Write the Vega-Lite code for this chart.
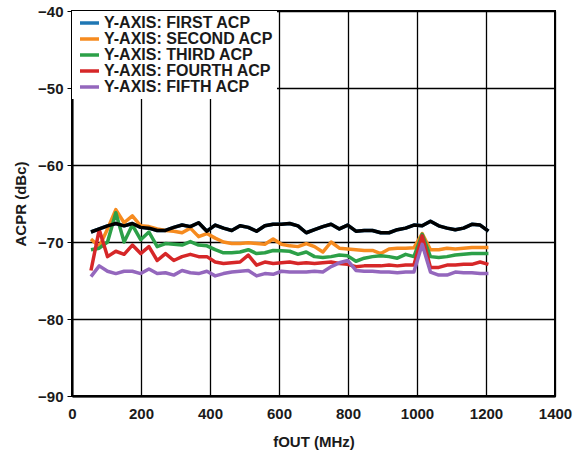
{
  "$schema": "https://vega.github.io/schema/vega-lite/v6.json",
  "autosize": {"type": "none"},
  "width": 483,
  "height": 385,
  "padding": {"left": 72, "top": 11, "right": 19, "bottom": 55},
  "background": "white",
  "config": {
    "font": "Liberation Sans",
    "view": {"stroke": "#000", "strokeWidth": 2},
    "axis": {
      "labelFont": "Liberation Sans", "labelFontWeight": "bold", "labelFontSize": 15, "labelColor": "#1a1a1a",
      "titleFont": "Liberation Sans", "titleFontWeight": "bold", "titleFontSize": 15, "titleColor": "#1a1a1a",
      "gridColor": "#000", "gridWidth": 1.3, "gridOpacity": 1,
      "domainColor": "#000", "domainWidth": 2, "tickColor": "#000"
    }
  },
  "data": {"values": [
    {"f":55,"v":-68.7,"s":"Y-AXIS: FIRST ACP"},{"f":79,"v":-68.3,"s":"Y-AXIS: FIRST ACP"},{"f":103,"v":-67.9,"s":"Y-AXIS: FIRST ACP"},{"f":127,"v":-67.6,"s":"Y-AXIS: FIRST ACP"},{"f":151,"v":-67.9,"s":"Y-AXIS: FIRST ACP"},{"f":175,"v":-67.6,"s":"Y-AXIS: FIRST ACP"},{"f":199,"v":-68.1,"s":"Y-AXIS: FIRST ACP"},{"f":223,"v":-68.2,"s":"Y-AXIS: FIRST ACP"},{"f":247,"v":-68.5,"s":"Y-AXIS: FIRST ACP"},{"f":271,"v":-68.5,"s":"Y-AXIS: FIRST ACP"},{"f":295,"v":-68.1,"s":"Y-AXIS: FIRST ACP"},{"f":319,"v":-67.8,"s":"Y-AXIS: FIRST ACP"},{"f":343,"v":-68.0,"s":"Y-AXIS: FIRST ACP"},{"f":367,"v":-67.5,"s":"Y-AXIS: FIRST ACP"},{"f":391,"v":-68.6,"s":"Y-AXIS: FIRST ACP"},{"f":415,"v":-67.8,"s":"Y-AXIS: FIRST ACP"},{"f":439,"v":-68.2,"s":"Y-AXIS: FIRST ACP"},{"f":463,"v":-68.5,"s":"Y-AXIS: FIRST ACP"},{"f":487,"v":-67.9,"s":"Y-AXIS: FIRST ACP"},{"f":511,"v":-68.1,"s":"Y-AXIS: FIRST ACP"},{"f":535,"v":-68.6,"s":"Y-AXIS: FIRST ACP"},{"f":559,"v":-67.9,"s":"Y-AXIS: FIRST ACP"},{"f":583,"v":-67.7,"s":"Y-AXIS: FIRST ACP"},{"f":607,"v":-67.7,"s":"Y-AXIS: FIRST ACP"},{"f":631,"v":-67.6,"s":"Y-AXIS: FIRST ACP"},{"f":655,"v":-67.9,"s":"Y-AXIS: FIRST ACP"},{"f":679,"v":-68.8,"s":"Y-AXIS: FIRST ACP"},{"f":703,"v":-68.4,"s":"Y-AXIS: FIRST ACP"},{"f":727,"v":-68.0,"s":"Y-AXIS: FIRST ACP"},{"f":751,"v":-67.7,"s":"Y-AXIS: FIRST ACP"},{"f":775,"v":-68.3,"s":"Y-AXIS: FIRST ACP"},{"f":799,"v":-67.8,"s":"Y-AXIS: FIRST ACP"},{"f":823,"v":-68.6,"s":"Y-AXIS: FIRST ACP"},{"f":847,"v":-68.5,"s":"Y-AXIS: FIRST ACP"},{"f":871,"v":-68.5,"s":"Y-AXIS: FIRST ACP"},{"f":895,"v":-68.8,"s":"Y-AXIS: FIRST ACP"},{"f":919,"v":-68.8,"s":"Y-AXIS: FIRST ACP"},{"f":943,"v":-68.4,"s":"Y-AXIS: FIRST ACP"},{"f":967,"v":-68.2,"s":"Y-AXIS: FIRST ACP"},{"f":991,"v":-67.8,"s":"Y-AXIS: FIRST ACP"},{"f":1015,"v":-67.9,"s":"Y-AXIS: FIRST ACP"},{"f":1039,"v":-67.3,"s":"Y-AXIS: FIRST ACP"},{"f":1063,"v":-67.9,"s":"Y-AXIS: FIRST ACP"},{"f":1087,"v":-68.2,"s":"Y-AXIS: FIRST ACP"},{"f":1111,"v":-68.4,"s":"Y-AXIS: FIRST ACP"},{"f":1135,"v":-68.2,"s":"Y-AXIS: FIRST ACP"},{"f":1159,"v":-67.7,"s":"Y-AXIS: FIRST ACP"},{"f":1183,"v":-67.8,"s":"Y-AXIS: FIRST ACP"},{"f":1207,"v":-68.6,"s":"Y-AXIS: FIRST ACP"},

    {"f":55,"v":-69.6,"s":"Y-AXIS: SECOND ACP"},{"f":79,"v":-70.6,"s":"Y-AXIS: SECOND ACP"},{"f":103,"v":-68.3,"s":"Y-AXIS: SECOND ACP"},{"f":127,"v":-65.8,"s":"Y-AXIS: SECOND ACP"},{"f":151,"v":-67.5,"s":"Y-AXIS: SECOND ACP"},{"f":175,"v":-66.6,"s":"Y-AXIS: SECOND ACP"},{"f":199,"v":-67.9,"s":"Y-AXIS: SECOND ACP"},{"f":223,"v":-68.0,"s":"Y-AXIS: SECOND ACP"},{"f":247,"v":-68.3,"s":"Y-AXIS: SECOND ACP"},{"f":271,"v":-68.5,"s":"Y-AXIS: SECOND ACP"},{"f":295,"v":-68.6,"s":"Y-AXIS: SECOND ACP"},{"f":319,"v":-68.8,"s":"Y-AXIS: SECOND ACP"},{"f":343,"v":-68.2,"s":"Y-AXIS: SECOND ACP"},{"f":367,"v":-69.3,"s":"Y-AXIS: SECOND ACP"},{"f":391,"v":-68.9,"s":"Y-AXIS: SECOND ACP"},{"f":415,"v":-69.5,"s":"Y-AXIS: SECOND ACP"},{"f":439,"v":-70.0,"s":"Y-AXIS: SECOND ACP"},{"f":463,"v":-70.2,"s":"Y-AXIS: SECOND ACP"},{"f":487,"v":-70.2,"s":"Y-AXIS: SECOND ACP"},{"f":511,"v":-70.1,"s":"Y-AXIS: SECOND ACP"},{"f":535,"v":-70.2,"s":"Y-AXIS: SECOND ACP"},{"f":559,"v":-70.3,"s":"Y-AXIS: SECOND ACP"},{"f":583,"v":-69.6,"s":"Y-AXIS: SECOND ACP"},{"f":607,"v":-70.3,"s":"Y-AXIS: SECOND ACP"},{"f":631,"v":-70.5,"s":"Y-AXIS: SECOND ACP"},{"f":655,"v":-70.6,"s":"Y-AXIS: SECOND ACP"},{"f":679,"v":-70.2,"s":"Y-AXIS: SECOND ACP"},{"f":703,"v":-70.6,"s":"Y-AXIS: SECOND ACP"},{"f":727,"v":-71.3,"s":"Y-AXIS: SECOND ACP"},{"f":751,"v":-70.0,"s":"Y-AXIS: SECOND ACP"},{"f":775,"v":-70.8,"s":"Y-AXIS: SECOND ACP"},{"f":799,"v":-70.9,"s":"Y-AXIS: SECOND ACP"},{"f":823,"v":-71.0,"s":"Y-AXIS: SECOND ACP"},{"f":847,"v":-71.1,"s":"Y-AXIS: SECOND ACP"},{"f":871,"v":-71.1,"s":"Y-AXIS: SECOND ACP"},{"f":895,"v":-71.5,"s":"Y-AXIS: SECOND ACP"},{"f":919,"v":-70.9,"s":"Y-AXIS: SECOND ACP"},{"f":943,"v":-70.8,"s":"Y-AXIS: SECOND ACP"},{"f":967,"v":-70.8,"s":"Y-AXIS: SECOND ACP"},{"f":991,"v":-70.75,"s":"Y-AXIS: SECOND ACP"},{"f":1015,"v":-68.9,"s":"Y-AXIS: SECOND ACP"},{"f":1039,"v":-71.0,"s":"Y-AXIS: SECOND ACP"},{"f":1063,"v":-71.0,"s":"Y-AXIS: SECOND ACP"},{"f":1087,"v":-70.8,"s":"Y-AXIS: SECOND ACP"},{"f":1111,"v":-70.9,"s":"Y-AXIS: SECOND ACP"},{"f":1135,"v":-70.8,"s":"Y-AXIS: SECOND ACP"},{"f":1159,"v":-70.7,"s":"Y-AXIS: SECOND ACP"},{"f":1183,"v":-70.7,"s":"Y-AXIS: SECOND ACP"},{"f":1207,"v":-70.7,"s":"Y-AXIS: SECOND ACP"},

    {"f":55,"v":-71.0,"s":"Y-AXIS: THIRD ACP"},{"f":79,"v":-70.8,"s":"Y-AXIS: THIRD ACP"},{"f":103,"v":-70.0,"s":"Y-AXIS: THIRD ACP"},{"f":127,"v":-66.2,"s":"Y-AXIS: THIRD ACP"},{"f":151,"v":-70.0,"s":"Y-AXIS: THIRD ACP"},{"f":175,"v":-67.8,"s":"Y-AXIS: THIRD ACP"},{"f":199,"v":-69.7,"s":"Y-AXIS: THIRD ACP"},{"f":223,"v":-68.7,"s":"Y-AXIS: THIRD ACP"},{"f":247,"v":-70.6,"s":"Y-AXIS: THIRD ACP"},{"f":271,"v":-70.2,"s":"Y-AXIS: THIRD ACP"},{"f":295,"v":-70.3,"s":"Y-AXIS: THIRD ACP"},{"f":319,"v":-70.4,"s":"Y-AXIS: THIRD ACP"},{"f":343,"v":-69.95,"s":"Y-AXIS: THIRD ACP"},{"f":367,"v":-70.4,"s":"Y-AXIS: THIRD ACP"},{"f":391,"v":-70.5,"s":"Y-AXIS: THIRD ACP"},{"f":415,"v":-71.0,"s":"Y-AXIS: THIRD ACP"},{"f":439,"v":-71.4,"s":"Y-AXIS: THIRD ACP"},{"f":463,"v":-71.4,"s":"Y-AXIS: THIRD ACP"},{"f":487,"v":-71.3,"s":"Y-AXIS: THIRD ACP"},{"f":511,"v":-71.0,"s":"Y-AXIS: THIRD ACP"},{"f":535,"v":-71.5,"s":"Y-AXIS: THIRD ACP"},{"f":559,"v":-71.4,"s":"Y-AXIS: THIRD ACP"},{"f":583,"v":-71.1,"s":"Y-AXIS: THIRD ACP"},{"f":607,"v":-71.15,"s":"Y-AXIS: THIRD ACP"},{"f":631,"v":-71.2,"s":"Y-AXIS: THIRD ACP"},{"f":655,"v":-71.6,"s":"Y-AXIS: THIRD ACP"},{"f":679,"v":-71.3,"s":"Y-AXIS: THIRD ACP"},{"f":703,"v":-71.9,"s":"Y-AXIS: THIRD ACP"},{"f":727,"v":-72.0,"s":"Y-AXIS: THIRD ACP"},{"f":751,"v":-71.9,"s":"Y-AXIS: THIRD ACP"},{"f":775,"v":-71.7,"s":"Y-AXIS: THIRD ACP"},{"f":799,"v":-71.8,"s":"Y-AXIS: THIRD ACP"},{"f":823,"v":-72.5,"s":"Y-AXIS: THIRD ACP"},{"f":847,"v":-72.1,"s":"Y-AXIS: THIRD ACP"},{"f":871,"v":-71.9,"s":"Y-AXIS: THIRD ACP"},{"f":895,"v":-71.8,"s":"Y-AXIS: THIRD ACP"},{"f":919,"v":-71.9,"s":"Y-AXIS: THIRD ACP"},{"f":943,"v":-72.1,"s":"Y-AXIS: THIRD ACP"},{"f":967,"v":-71.6,"s":"Y-AXIS: THIRD ACP"},{"f":991,"v":-71.9,"s":"Y-AXIS: THIRD ACP"},{"f":1015,"v":-69.0,"s":"Y-AXIS: THIRD ACP"},{"f":1039,"v":-71.9,"s":"Y-AXIS: THIRD ACP"},{"f":1063,"v":-72.0,"s":"Y-AXIS: THIRD ACP"},{"f":1087,"v":-71.9,"s":"Y-AXIS: THIRD ACP"},{"f":1111,"v":-71.7,"s":"Y-AXIS: THIRD ACP"},{"f":1135,"v":-71.6,"s":"Y-AXIS: THIRD ACP"},{"f":1159,"v":-71.5,"s":"Y-AXIS: THIRD ACP"},{"f":1183,"v":-71.5,"s":"Y-AXIS: THIRD ACP"},{"f":1207,"v":-71.5,"s":"Y-AXIS: THIRD ACP"},

    {"f":55,"v":-73.7,"s":"Y-AXIS: FOURTH ACP"},{"f":79,"v":-68.4,"s":"Y-AXIS: FOURTH ACP"},{"f":103,"v":-71.9,"s":"Y-AXIS: FOURTH ACP"},{"f":127,"v":-71.2,"s":"Y-AXIS: FOURTH ACP"},{"f":151,"v":-71.6,"s":"Y-AXIS: FOURTH ACP"},{"f":175,"v":-70.4,"s":"Y-AXIS: FOURTH ACP"},{"f":199,"v":-71.5,"s":"Y-AXIS: FOURTH ACP"},{"f":223,"v":-70.6,"s":"Y-AXIS: FOURTH ACP"},{"f":247,"v":-72.4,"s":"Y-AXIS: FOURTH ACP"},{"f":271,"v":-71.5,"s":"Y-AXIS: FOURTH ACP"},{"f":295,"v":-72.4,"s":"Y-AXIS: FOURTH ACP"},{"f":319,"v":-71.9,"s":"Y-AXIS: FOURTH ACP"},{"f":343,"v":-71.6,"s":"Y-AXIS: FOURTH ACP"},{"f":367,"v":-71.9,"s":"Y-AXIS: FOURTH ACP"},{"f":391,"v":-71.9,"s":"Y-AXIS: FOURTH ACP"},{"f":415,"v":-72.6,"s":"Y-AXIS: FOURTH ACP"},{"f":439,"v":-72.8,"s":"Y-AXIS: FOURTH ACP"},{"f":463,"v":-72.7,"s":"Y-AXIS: FOURTH ACP"},{"f":487,"v":-72.6,"s":"Y-AXIS: FOURTH ACP"},{"f":511,"v":-71.7,"s":"Y-AXIS: FOURTH ACP"},{"f":535,"v":-73.0,"s":"Y-AXIS: FOURTH ACP"},{"f":559,"v":-72.6,"s":"Y-AXIS: FOURTH ACP"},{"f":583,"v":-72.8,"s":"Y-AXIS: FOURTH ACP"},{"f":607,"v":-72.7,"s":"Y-AXIS: FOURTH ACP"},{"f":631,"v":-72.6,"s":"Y-AXIS: FOURTH ACP"},{"f":655,"v":-72.8,"s":"Y-AXIS: FOURTH ACP"},{"f":679,"v":-72.7,"s":"Y-AXIS: FOURTH ACP"},{"f":703,"v":-72.8,"s":"Y-AXIS: FOURTH ACP"},{"f":727,"v":-72.7,"s":"Y-AXIS: FOURTH ACP"},{"f":751,"v":-72.6,"s":"Y-AXIS: FOURTH ACP"},{"f":775,"v":-72.8,"s":"Y-AXIS: FOURTH ACP"},{"f":799,"v":-72.9,"s":"Y-AXIS: FOURTH ACP"},{"f":823,"v":-73.2,"s":"Y-AXIS: FOURTH ACP"},{"f":847,"v":-73.1,"s":"Y-AXIS: FOURTH ACP"},{"f":871,"v":-73.1,"s":"Y-AXIS: FOURTH ACP"},{"f":895,"v":-73.1,"s":"Y-AXIS: FOURTH ACP"},{"f":919,"v":-73.0,"s":"Y-AXIS: FOURTH ACP"},{"f":943,"v":-73.1,"s":"Y-AXIS: FOURTH ACP"},{"f":967,"v":-73.0,"s":"Y-AXIS: FOURTH ACP"},{"f":991,"v":-73.0,"s":"Y-AXIS: FOURTH ACP"},{"f":1015,"v":-69.2,"s":"Y-AXIS: FOURTH ACP"},{"f":1039,"v":-73.3,"s":"Y-AXIS: FOURTH ACP"},{"f":1063,"v":-73.3,"s":"Y-AXIS: FOURTH ACP"},{"f":1087,"v":-73.0,"s":"Y-AXIS: FOURTH ACP"},{"f":1111,"v":-73.0,"s":"Y-AXIS: FOURTH ACP"},{"f":1135,"v":-72.9,"s":"Y-AXIS: FOURTH ACP"},{"f":1159,"v":-72.9,"s":"Y-AXIS: FOURTH ACP"},{"f":1183,"v":-72.6,"s":"Y-AXIS: FOURTH ACP"},{"f":1207,"v":-72.9,"s":"Y-AXIS: FOURTH ACP"},

    {"f":55,"v":-74.5,"s":"Y-AXIS: FIFTH ACP"},{"f":79,"v":-73.1,"s":"Y-AXIS: FIFTH ACP"},{"f":103,"v":-73.8,"s":"Y-AXIS: FIFTH ACP"},{"f":127,"v":-74.1,"s":"Y-AXIS: FIFTH ACP"},{"f":151,"v":-73.8,"s":"Y-AXIS: FIFTH ACP"},{"f":175,"v":-73.8,"s":"Y-AXIS: FIFTH ACP"},{"f":199,"v":-74.1,"s":"Y-AXIS: FIFTH ACP"},{"f":223,"v":-73.5,"s":"Y-AXIS: FIFTH ACP"},{"f":247,"v":-74.1,"s":"Y-AXIS: FIFTH ACP"},{"f":271,"v":-74.0,"s":"Y-AXIS: FIFTH ACP"},{"f":295,"v":-74.3,"s":"Y-AXIS: FIFTH ACP"},{"f":319,"v":-73.7,"s":"Y-AXIS: FIFTH ACP"},{"f":343,"v":-74.0,"s":"Y-AXIS: FIFTH ACP"},{"f":367,"v":-74.1,"s":"Y-AXIS: FIFTH ACP"},{"f":391,"v":-73.8,"s":"Y-AXIS: FIFTH ACP"},{"f":415,"v":-74.4,"s":"Y-AXIS: FIFTH ACP"},{"f":439,"v":-74.1,"s":"Y-AXIS: FIFTH ACP"},{"f":463,"v":-73.9,"s":"Y-AXIS: FIFTH ACP"},{"f":487,"v":-73.8,"s":"Y-AXIS: FIFTH ACP"},{"f":511,"v":-73.7,"s":"Y-AXIS: FIFTH ACP"},{"f":535,"v":-74.4,"s":"Y-AXIS: FIFTH ACP"},{"f":559,"v":-74.1,"s":"Y-AXIS: FIFTH ACP"},{"f":583,"v":-74.2,"s":"Y-AXIS: FIFTH ACP"},{"f":607,"v":-73.8,"s":"Y-AXIS: FIFTH ACP"},{"f":631,"v":-73.9,"s":"Y-AXIS: FIFTH ACP"},{"f":655,"v":-73.9,"s":"Y-AXIS: FIFTH ACP"},{"f":679,"v":-73.9,"s":"Y-AXIS: FIFTH ACP"},{"f":703,"v":-73.8,"s":"Y-AXIS: FIFTH ACP"},{"f":727,"v":-73.9,"s":"Y-AXIS: FIFTH ACP"},{"f":751,"v":-73.2,"s":"Y-AXIS: FIFTH ACP"},{"f":775,"v":-72.7,"s":"Y-AXIS: FIFTH ACP"},{"f":799,"v":-72.4,"s":"Y-AXIS: FIFTH ACP"},{"f":823,"v":-73.7,"s":"Y-AXIS: FIFTH ACP"},{"f":847,"v":-73.8,"s":"Y-AXIS: FIFTH ACP"},{"f":871,"v":-73.8,"s":"Y-AXIS: FIFTH ACP"},{"f":895,"v":-73.9,"s":"Y-AXIS: FIFTH ACP"},{"f":919,"v":-73.9,"s":"Y-AXIS: FIFTH ACP"},{"f":943,"v":-74.0,"s":"Y-AXIS: FIFTH ACP"},{"f":967,"v":-73.9,"s":"Y-AXIS: FIFTH ACP"},{"f":991,"v":-73.9,"s":"Y-AXIS: FIFTH ACP"},{"f":1015,"v":-70.3,"s":"Y-AXIS: FIFTH ACP"},{"f":1039,"v":-73.9,"s":"Y-AXIS: FIFTH ACP"},{"f":1063,"v":-74.3,"s":"Y-AXIS: FIFTH ACP"},{"f":1087,"v":-74.3,"s":"Y-AXIS: FIFTH ACP"},{"f":1111,"v":-73.9,"s":"Y-AXIS: FIFTH ACP"},{"f":1135,"v":-74.0,"s":"Y-AXIS: FIFTH ACP"},{"f":1159,"v":-74.0,"s":"Y-AXIS: FIFTH ACP"},{"f":1183,"v":-74.1,"s":"Y-AXIS: FIFTH ACP"},{"f":1207,"v":-74.1,"s":"Y-AXIS: FIFTH ACP"}
  ]},
  "encoding": {
    "x": {"field": "f", "type": "quantitative",
      "scale": {"domain": [0, 1400], "nice": false},
      "axis": {"title": "fOUT (MHz)", "format": "d", "values": [0,200,400,600,800,1000,1200,1400], "ticks": false, "labelPadding": 10, "titlePadding": 13, "labelFlush": false}},
    "y": {"field": "v", "type": "quantitative",
      "scale": {"domain": [-90, -40], "nice": false, "zero": false},
      "axis": {"title": "ACPR (dBc)", "format": "d", "values": [-90,-80,-70,-60,-50,-40], "tickSize": 5, "labelPadding": 4, "titlePadding": 9, "labelFlush": false}}
  },
  "layer": [
    {
      "mark": {"type": "line", "strokeWidth": 3.5, "strokeJoin": "round"},
      "encoding": {
        "color": {"field": "s", "type": "nominal",
          "scale": {
            "domain": ["Y-AXIS: FIRST ACP","Y-AXIS: SECOND ACP","Y-AXIS: THIRD ACP","Y-AXIS: FOURTH ACP","Y-AXIS: FIFTH ACP"],
            "range": ["#1f77b4","#f68b1f","#2ca048","#d62728","#9467bd"]},
          "legend": {
            "title": null, "orient": "none", "legendX": 0, "legendY": 0,
            "fillColor": "white", "padding": 4,
            "symbolType": "M-0.8,0H3.0", "symbolSize": 100, "symbolStrokeWidth": 3.5,
            "labelFont": "Liberation Sans", "labelFontWeight": "bold", "labelFontSize": 16, "labelColor": "#1a1a1a",
            "labelOffset": 12, "rowPadding": 0, "labelLimit": 300
          }}
      }
    },
    {
      "transform": [{"filter": "datum.s === 'Y-AXIS: FIRST ACP'"}],
      "mark": {"type": "line", "strokeWidth": 3.5, "strokeJoin": "round", "color": "#000"}
    }
  ]
}
